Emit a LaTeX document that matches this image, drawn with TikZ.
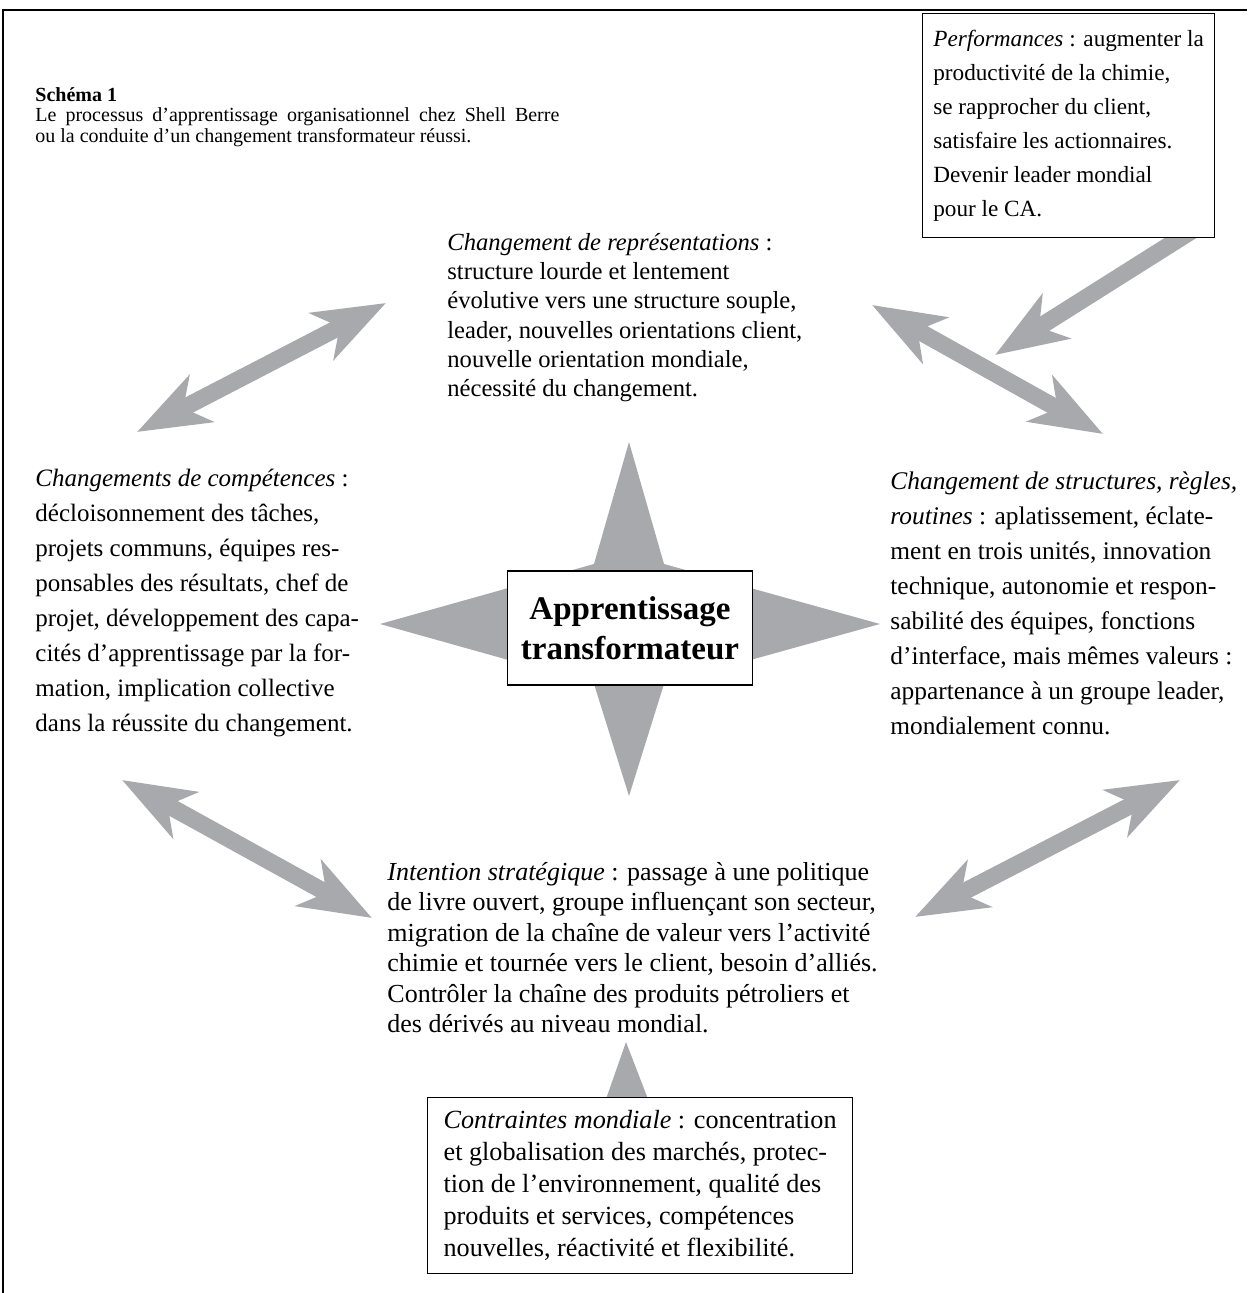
\documentclass[tikz,border=0pt]{standalone}
\usepackage{fontspec}
\setmainfont{Liberation Serif}
\usepackage{tikz}
\usetikzlibrary{arrows.meta}
\usetikzlibrary{calc}
\usetikzlibrary{positioning}
\tikzset{>=latex}
\definecolor{spikegray}{RGB}{167,169,172}
\tikzstyle{biarrow}=[draw=spikegray,line width=8.5pt,{Stealth[length=36pt,width=26pt,inset=10pt]}-{Stealth[length=36pt,width=26pt,inset=10pt]}]
\tikzstyle{monoarrow}=[draw=spikegray,line width=8.5pt,-{Stealth[length=36pt,width=26pt,inset=10pt]}]
\tikzstyle{bloc}=[inner sep=0pt,align=left,font=\fontsize{12.8}{16}\selectfont]
\tikzstyle{cadre}=[bloc,draw,fill=white,line width=0.6pt]
\pgfdeclarelayer{back}
\pgfsetlayers{back,main}

\begin{document}
\begin{tikzpicture}[x=0.5pt,y=-0.5pt]
\useasboundingbox (0,0) rectangle (1247,1293);
\draw[line width=0.8pt] (1247,10) -- (3,10) -- (3,1293);

\node[bloc,anchor=north west,font=\fontsize{10}{10.3}\selectfont] (titre) at (35,87)
  {\textbf{Schéma 1}\\ \makebox[262pt][s]{Le processus d’apprentissage organisationnel chez Shell Berre}\\ ou la conduite d’un changement transformateur réussi.};

\node[cadre,anchor=north west,minimum width=146pt,minimum height=112pt,font=\fontsize{11.6}{17}\selectfont] (perf) at (922,13)
  {\textit{Performances} : augmenter la\\ productivité de la chimie,\\ se rapprocher du client,\\ satisfaire les actionnaires.\\ Devenir leader mondial\\ pour le CA.};

\node[bloc,anchor=north west,font=\fontsize{12.3}{14.6}\selectfont] (repr) at (447,233)
  {\textit{Changement de représentations} :\\ structure lourde et lentement\\ évolutive vers une structure souple,\\ leader, nouvelles orientations client,\\ nouvelle orientation mondiale,\\ nécessité du changement.};

\node[bloc,anchor=west,font=\fontsize{12.5}{17.5}\selectfont] (comp) at (35,603)
  {\textit{Changements de  compétences} :\\ décloisonnement des tâches,\\ projets communs, équipes res-\\ ponsables des résultats, chef de\\ projet, développement des capa-\\ cités d’apprentissage par la for-\\ mation, implication collective\\ dans la réussite du changement.};

\node[bloc,anchor=west,font=\fontsize{12.7}{17.5}\selectfont] (struct) at (890,603)
  {\textit{Changement de structures, règles,}\\ \textit{routines} : aplatissement, éclate-\\ ment en trois unités, innovation\\ technique,  autonomie et respon-\\ sabilité des équipes, fonctions\\ d’interface, mais mêmes valeurs :\\ appartenance à un groupe leader,\\ mondialement connu.};

\node[cadre,minimum width=122.5pt,minimum height=57pt,align=center,font=\fontsize{16.5}{20}\selectfont\bfseries] (coeur) at (630,628)
  {Apprentissage\\ transformateur};

\node[bloc,anchor=north west,font=\fontsize{13}{15.2}\selectfont] (intent) at (387,862)
  {\textit{Intention stratégique} : passage à une politique\\ de livre ouvert, groupe influençant son secteur,\\ migration de la chaîne de valeur vers l’activité\\ chimie et tournée vers le client, besoin d’alliés.\\ Contrôler la chaîne des produits pétroliers et\\ des dérivés au niveau mondial.};

\node[cadre,anchor=north west,minimum width=212.5pt,minimum height=88pt,font=\fontsize{13.1}{16}\selectfont] (contr) at (427,1097)
  {\textit{Contraintes mondiale} : concentration\\ et globalisation des marchés, protec-\\ tion de l’environnement, qualité des\\ produits et services, compétences\\ nouvelles, réactivité et flexibilité.};

\begin{pgfonlayer}{back}
  \coordinate (m) at (629,624);
  \fill[spikegray] ($(m)+(0,-182)$) -- ($(m)+(35,-60)$) -- ($(m)+(251,0)$) -- ($(m)+(35,60)$)
    -- ($(m)+(0,172)$) -- ($(m)+(-35,60)$) -- ($(m)+(-249,0)$) -- ($(m)+(-35,-60)$) -- cycle;
  \fill[spikegray] (606,1099) -- (626,1042) -- (648,1099) -- cycle;

  \coordinate (ulA) at (137,432);
  \coordinate (ulB) at (386,303);
  \coordinate (urA) at (872,305);
  \coordinate (urB) at (1103,434);
  \coordinate (llA) at (122,780);
  \coordinate (llB) at (372,918);
  \coordinate (lrA) at (915,917);
  \coordinate (lrB) at (1180,780);
  \coordinate (perfpt) at (995,355);
  \draw[biarrow] (ulA) -- (ulB);
  \draw[biarrow] (urA) -- (urB);
  \draw[biarrow] (llA) -- (llB);
  \draw[biarrow] (lrA) -- (lrB);
  \draw[monoarrow] ([xshift=-8pt,yshift=6pt]perf.south east) -- (perfpt);
\end{pgfonlayer}
\end{tikzpicture}
\end{document}
